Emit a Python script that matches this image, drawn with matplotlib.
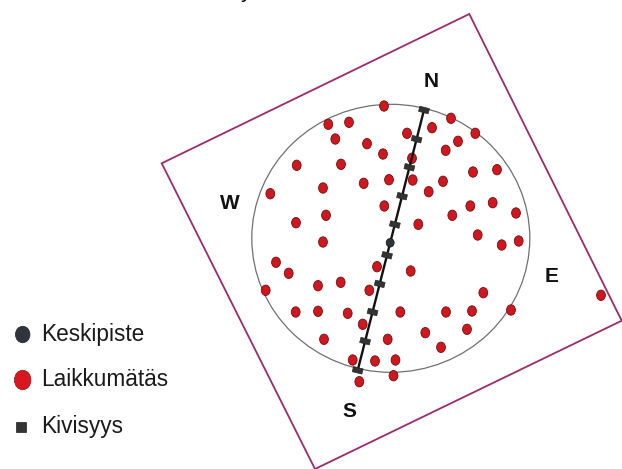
import numpy as np
import matplotlib
matplotlib.use("Agg")
import matplotlib.pyplot as plt
from matplotlib.patches import Ellipse, Polygon, Rectangle

# ---- data (map coordinates, pixel-like units, y downward) ----
plot_corners_x = [161.7, 469.3, 621.7, 315.0]
plot_corners_y = [163.3, 14.0, 320.7, 469.0]

circle_cx, circle_cy = 390.8, 238.3
circle_w, circle_h = 278.0, 268.0

mound_x = [384.0, 451.0, 328.3, 349.0, 407.0, 432.0, 475.3, 335.3, 367.0, 458.0,
           445.7, 383.0, 412.0, 296.7, 341.0, 473.0, 497.0, 389.0, 412.7, 363.7,
           443.0, 323.0, 428.7, 270.3, 492.7, 470.3, 516.0, 384.3, 326.0, 452.3,
           296.0, 418.3, 477.7, 323.0, 518.7, 501.7, 276.0, 288.7, 377.0, 410.7,
           265.7, 318.0, 340.7, 369.3, 483.3, 601.0, 295.7, 318.0, 347.7, 400.3,
           446.0, 472.0, 511.0, 362.7, 425.3, 467.0, 324.0, 387.7, 441.0, 352.7,
           375.0, 395.5, 359.3, 393.5]
mound_y = [106.0, 118.3, 124.3, 122.3, 133.3, 127.7, 133.3, 139.0, 143.7, 141.3,
           150.3, 154.0, 158.3, 165.3, 164.3, 172.0, 169.7, 179.7, 180.0, 183.3,
           181.3, 188.0, 191.7, 193.7, 202.7, 206.0, 213.0, 206.0, 215.3, 215.3,
           222.7, 224.3, 235.0, 242.0, 241.0, 245.0, 262.3, 273.3, 266.7, 271.0,
           290.3, 285.7, 282.3, 290.3, 292.7, 295.3, 312.0, 311.3, 313.3, 312.0,
           312.0, 311.0, 310.0, 324.3, 332.7, 329.3, 339.3, 339.3, 347.3, 360.0,
           361.0, 360.0, 381.7, 375.7]

transect_x = [424.0, 357.7]   # N end, S end
transect_y = [110.0, 370.3]
stone_frac = [0.0, 0.112, 0.22, 0.331, 0.44, 0.558, 0.668, 0.776, 0.888, 1.0]
center_frac = 0.51

directions = ["N", "W", "E", "S"]
dir_x = [431.0, 230.0, 551.7, 349.0]
dir_y = [81.7, 203.3, 276.7, 411.7]

legend_labels = ["Keskipiste", "Laikkumätäs", "Kivisyys"]

# ---- figure ----
plt.rcParams['font.family'] = ['Liberation Sans', 'DejaVu Sans']
fig = plt.figure(figsize=(6.22, 4.69), dpi=100)
ax = fig.add_axes([0, 0, 1, 1])
ax.set_xlim(0, 622)
ax.set_ylim(469, 0)
ax.axis('off')

magenta = '#9c2a6c'
red = '#d0161e'
red_edge = '#6e1212'
dark = '#2e353d'

ax.add_patch(Polygon(np.column_stack([plot_corners_x, plot_corners_y]), closed=True,
                     fill=False, edgecolor=magenta, lw=1.3, zorder=1))
ax.add_patch(Ellipse((circle_cx, circle_cy), circle_w, circle_h, fill=False,
                     edgecolor='#707070', lw=0.9, zorder=2))

for x, y in zip(mound_x, mound_y):
    ax.add_patch(Ellipse((x, y), 8.8, 10.4, facecolor=red, edgecolor=red_edge,
                         lw=0.6, zorder=3))

# transect
ax.plot(transect_x, transect_y, color='#111111', lw=1.7, zorder=4)
dx = transect_x[1] - transect_x[0]
dy = transect_y[1] - transect_y[0]
ang = np.degrees(np.arctan2(-dx, dy))
for f in stone_frac:
    sx = transect_x[0] + f * dx
    sy = transect_y[0] + f * dy
    ax.add_patch(Rectangle((sx - 5.0, sy - 2.7), 10.0, 5.4, angle=ang,
                           rotation_point='center', facecolor='#333333',
                           edgecolor='#222222', lw=0.4, zorder=5))
cx = transect_x[0] + center_frac * dx
cy = transect_y[0] + center_frac * dy
ax.add_patch(Ellipse((cx, cy), 8.0, 8.6, facecolor=dark, edgecolor='#111111',
                     lw=0.5, zorder=6))

for t, x, y in zip(directions, dir_x, dir_y):
    ax.text(x, y, t, fontsize=15, fontweight='bold', ha='center', va='center',
            color='#111111', zorder=7)

# partial title glyph cut at top edge (as in the reference)
ax.text(246, -2.5, "y", fontsize=16, ha='center', va='baseline', color='#111111',
        clip_on=False)

# legend
leg_y = [334.5, 380.0, 427.0]
ax.add_patch(Ellipse((22.7, leg_y[0]), 14.5, 16.5, facecolor=dark,
                     edgecolor='#222222', lw=0.5))
ax.add_patch(Ellipse((22.7, leg_y[1]), 16.5, 19.5, facecolor='#d8181e',
                     edgecolor='#8a1414', lw=0.5))
ax.add_patch(Rectangle((16.0, leg_y[2] - 5), 10, 10, facecolor='#333333',
                       edgecolor='#222222', lw=0.5))
for lab, y in zip(legend_labels, leg_y):
    ax.text(41.5, y, lab, fontsize=16.3, ha='left', va='center', color='#1a1a1a')

fig.savefig('out.png', dpi=100)
